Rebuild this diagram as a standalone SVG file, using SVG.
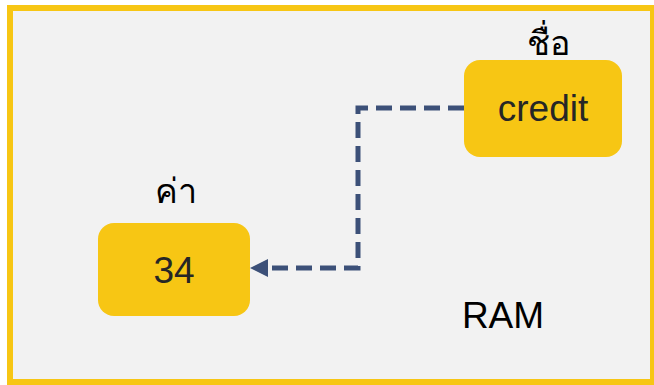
<svg xmlns="http://www.w3.org/2000/svg" width="654" height="385" viewBox="0 0 654 385">
<style>
.box{fill:#F7C614;}
.lbl{font-family:"Liberation Sans",Arial,sans-serif;font-size:37px;fill:#262626;text-anchor:middle;}
.th{font-family:"Noto Sans","Noto Sans CJK SC",sans-serif;font-size:34px;fill:#000;text-anchor:middle;}
.conn{fill:none;stroke:#3C5078;stroke-width:5;stroke-dasharray:16 8;}
</style>
<rect x="10" y="8" width="643" height="374" fill="#F2F2F2" stroke="#F7C614" stroke-width="6"/>
<g id="connectors">
<path class="conn" d="M464,108 H358 V268 H268"/>
<path d="M250,268 L268,259 L268,277 z" fill="#3C5078"/>
</g>
<g id="credit">
<rect class="box" x="464" y="60" width="158" height="97" rx="16"/>
<text class="lbl" x="543" y="121">credit</text>
</g>
<g id="name-label">
<text class="th" x="548" y="55">ชื่อ</text>
</g>
<g id="value">
<rect class="box" x="98" y="223" width="152" height="93" rx="16"/>
<text class="lbl" x="174" y="283">34</text>
</g>
<g id="value-label">
<text class="th" x="176" y="203">ค่า</text>
</g>
<g id="ram">
<text class="lbl" x="503" y="328" style="fill:#000">RAM</text>
</g>
</svg>
